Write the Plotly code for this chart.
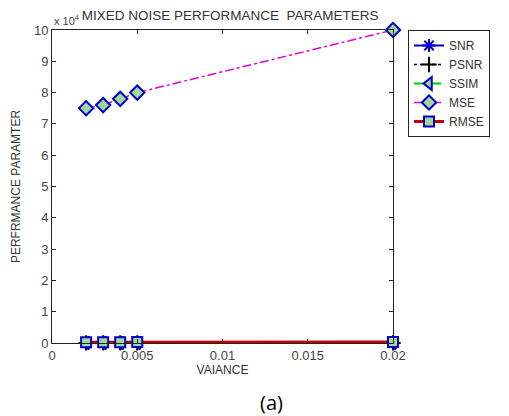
import plotly.graph_objects as go

variance = [0.002, 0.003, 0.004, 0.005, 0.02]
snr = [22.1, 21.5, 20.9, 20.3, 16.8]
psnr = [29.4, 28.8, 28.2, 27.6, 24.1]
ssim = [0.62, 0.58, 0.55, 0.52, 0.38]
mse = [75000, 76000, 78000, 80000, 100000]
rmse = [273.9, 275.7, 279.3, 282.8, 316.2]
scale = 1e4

x_ticks = [0, 0.005, 0.01, 0.015, 0.02]
x_labels = ["0", "0.005", "0.01", "0.015", "0.02"]
y_ticks = list(range(0, 11))

BLUE = "#0000c8"
FILL = "#9fd89a"

def sc(v):
    return [a / scale for a in v]

fig = go.Figure()
fig.add_trace(go.Scatter(x=variance, y=sc(snr), name="SNR", mode="lines+markers", cliponaxis=False,
                         line=dict(color=BLUE, width=2),
                         marker=dict(symbol="asterisk-open", size=11, line=dict(color=BLUE, width=2))))
fig.add_trace(go.Scatter(x=variance, y=sc(psnr), name="PSNR", mode="lines+markers", cliponaxis=False,
                         line=dict(color="black", width=1.5, dash="dot"),
                         marker=dict(symbol="cross-thin-open", size=11, line=dict(color=BLUE, width=2))))
fig.add_trace(go.Scatter(x=variance, y=sc(ssim), name="SSIM", mode="lines+markers", cliponaxis=False,
                         line=dict(color="#00cc00", width=2, dash="dash"),
                         marker=dict(symbol="triangle-left", size=11, color=FILL, line=dict(color=BLUE, width=2))))
fig.add_trace(go.Scatter(x=variance, y=sc(mse), name="MSE", mode="lines+markers", cliponaxis=False,
                         line=dict(color="#e000e0", width=1.5, dash="dashdot"),
                         marker=dict(symbol="diamond", size=11, color=FILL, line=dict(color=BLUE, width=2))))
fig.add_trace(go.Scatter(x=variance, y=sc(rmse), name="RMSE", mode="lines+markers", cliponaxis=False,
                         line=dict(color="#c00000", width=3),
                         marker=dict(symbol="square", size=10, color=FILL, line=dict(color=BLUE, width=2))))

axis_common = dict(showgrid=False, zeroline=False, showline=True, linecolor="#222", linewidth=1,
                   mirror="ticks", ticks="inside", ticklen=4, tickcolor="#222",
                   tickfont=dict(family="Liberation Sans", size=13, color="#444"))

fig.update_layout(
    width=509, height=416,
    margin=dict(l=52, r=116, t=30, b=73),
    paper_bgcolor="white", plot_bgcolor="white",
    font=dict(family="Liberation Sans", size=12, color="#333"),
    title=dict(text="MIXED NOISE PERFORMANCE  PARAMETERS", x=0.452, xanchor="center",
               y=0.963, yanchor="middle", font=dict(size=13.5, color="#333")),
    xaxis=dict(range=[0, 0.02], tickvals=x_ticks, ticktext=x_labels,
               title=dict(text="VAIANCE", standoff=0, font=dict(size=12)), **axis_common),
    yaxis=dict(range=[0, 10], tickvals=y_ticks,
               title=dict(text="PERFRMANCE PARAMTER", standoff=10, font=dict(size=12)), **axis_common),
    legend=dict(x=1.044, y=1.0, xanchor="left", yanchor="top", bgcolor="white",
                bordercolor="#222", borderwidth=1, font=dict(size=12, color="#333"),
                tracegroupgap=0, itemwidth=30),
    showlegend=True,
)

fig.add_annotation(text="x 10<sup>4</sup>", x=0.0, y=1.0, xref="paper", yref="paper",
                   xanchor="left", yanchor="bottom", showarrow=False, yshift=1, xshift=0,
                   font=dict(size=11, color="#444"))
fig.add_annotation(text="(a)", x=0.645, y=-0.19, xref="paper", yref="paper",
                   xanchor="center", yanchor="middle", showarrow=False,
                   font=dict(family="Open Sans", size=20, color="black"))

fig.write_html("out.html")
